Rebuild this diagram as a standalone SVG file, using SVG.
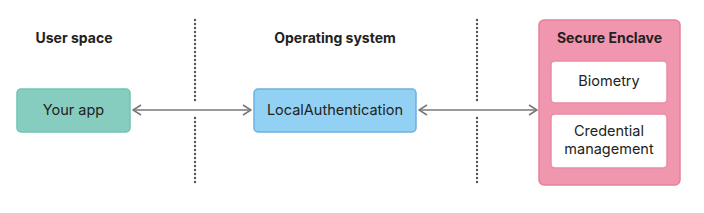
<svg xmlns="http://www.w3.org/2000/svg" width="704" height="213" viewBox="0 0 704 213">
<defs>
<style>
.t{font-family:Inter,"Liberation Sans",Arial,sans-serif;font-size:14.5px;fill:#222;text-anchor:middle}
.h{font-weight:bold;font-size:14px}
.dot{stroke:#555;stroke-width:2.4;stroke-linecap:round;stroke-dasharray:0 4;fill:none}
.ar{stroke:#777;stroke-width:1.5;fill:none}
</style>
<marker id="ah" viewBox="0 0 10 12" refX="9" refY="6" markerWidth="10" markerHeight="12" markerUnits="userSpaceOnUse" orient="auto-start-reverse">
<path d="M1,1 L9,6 L1,11" fill="none" stroke="#777" stroke-width="1.5"/>
</marker>
</defs>
<rect width="704" height="213" fill="#fff"/>
<text class="t h" x="74" y="43">User space</text>
<text class="t h" x="335" y="43">Operating system</text>
<g id="dividers">
<line class="dot" x1="195" y1="20" x2="195" y2="102"/>
<line class="dot" x1="195" y1="118" x2="195" y2="186"/>
<line class="dot" x1="477" y1="20" x2="477" y2="102"/>
<line class="dot" x1="477" y1="118" x2="477" y2="186"/>
</g>
<g id="connectors">
<line class="ar" x1="133" y1="110" x2="251" y2="110" marker-start="url(#ah)" marker-end="url(#ah)"/>
<line class="ar" x1="419" y1="110" x2="537" y2="110" marker-start="url(#ah)" marker-end="url(#ah)"/>
</g>
<g id="your-app">
<rect x="17" y="89" width="113" height="43" rx="4" fill="#86cdc0" stroke="#6fc4b4" stroke-width="1.5"/>
<text class="t" x="73.5" y="115">Your app</text>
</g>
<g id="local-auth">
<rect x="254" y="89" width="162" height="43" rx="4" fill="#92d1f3" stroke="#6bb0e2" stroke-width="1.5"/>
<text class="t" x="335" y="115">LocalAuthentication</text>
</g>
<g id="secure-enclave">
<rect x="539" y="20" width="141" height="165" rx="5" fill="#f096ae" stroke="#e8809c" stroke-width="1.5"/>
<text class="t h" x="609.5" y="43">Secure Enclave</text>
</g>
<g id="biometry">
<rect x="551" y="61" width="116" height="42" rx="4" fill="#fff" stroke="#ec8aa5" stroke-width="1.5"/>
<text class="t" x="609" y="86">Biometry</text>
</g>
<g id="credential">
<rect x="551" y="114" width="116" height="54" rx="4" fill="#fff" stroke="#ec8aa5" stroke-width="1.5"/>
<text class="t" x="609" y="136">Credential</text>
<text class="t" x="609" y="154">management</text>
</g>
</svg>
